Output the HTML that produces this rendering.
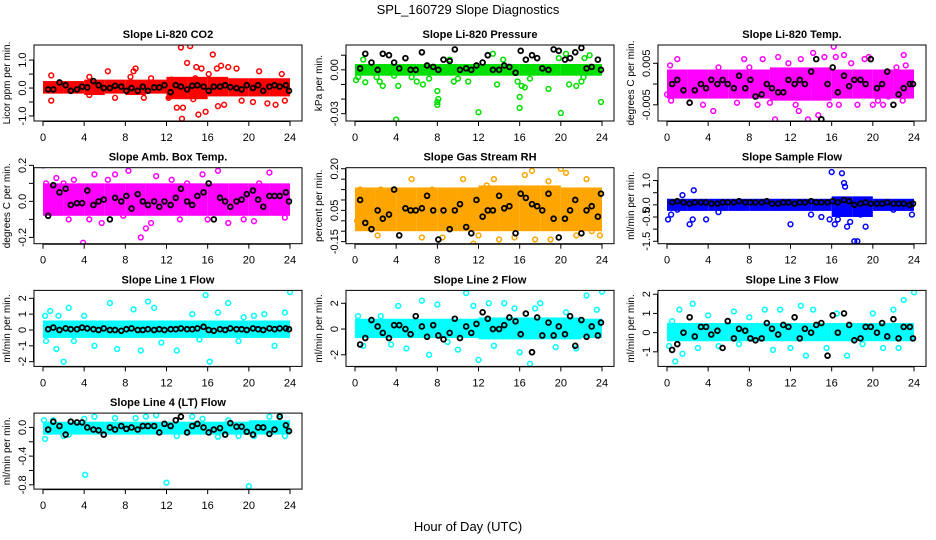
<!DOCTYPE html>
<html><head><meta charset="utf-8"><style>
body{margin:0;background:#fff;}
svg{display:block;font-family:"Liberation Sans",sans-serif;}
</style></head><body>
<svg id="chart" width="936" height="540" xmlns="http://www.w3.org/2000/svg">
<text x="468" y="14" text-anchor="middle" font-size="13">SPL_160729  Slope Diagnostics</text>
<text x="468" y="531" text-anchor="middle" font-size="13">Hour of Day (UTC)</text>
</svg>
<script>
const xTicks=[0,4,8,12,16,20,24];
const blackHours=[0.5,1.0,1.6,2.2,2.7,3.3,3.8,4.3,4.9,5.4,5.9,6.5,7.0,7.6,8.1,8.6,9.2,9.7,10.2,10.8,11.3,11.8,12.4,12.9,13.4,14.0,14.5,15.0,15.6,16.1,16.6,17.2,17.7,18.2,18.8,19.3,19.8,20.4,20.9,21.4,22.0,22.5,23.0,23.6,23.9];
const titles=["Slope Li-820 CO2","Slope Li-820 Pressure","Slope Li-820 Temp.","Slope Amb. Box Temp.","Slope Gas Stream RH","Slope Sample Flow","Slope Line 1 Flow","Slope Line 2 Flow","Slope Line 3 Flow","Slope Line 4 (LT) Flow"];
const yTitles=["Licor ppm per min.","kPa per min.","degrees C per min.","degrees C per min.","percent per min.","ml/min per min.","ml/min per min.","ml/min per min.","ml/min per min.","ml/min per min."];
const yRanges=[[-1.18,1.54],[-0.035,0.017],[-0.0089,0.0094],[-0.235,0.187],[-0.16,0.205],[-1.6,1.53],[-2.3,2.5],[-2.9,3.0],[-1.76,2.2],[-0.86,0.2]];
const yTickVals=[[-1,-0.5,0,0.5,1],[-0.03,-0.02,-0.01,0,0.01],[-0.005,0,0.005],[-0.2,-0.1,0,0.1,0.2],[-0.15,-0.1,-0.05,0,0.05,0.1,0.15,0.2],[-1.5,-1,-0.5,0,0.5,1],[-2,-1,0,1,2],[-2,0,2],[-1,0,1,2],[-0.8,-0.6,-0.4,-0.2,0]];
const yTickLabels=[["-1.0","","0.0","","1.0"],["-0.03","","","0.00",""],["-0.005","","0.005"],["-0.2","","0.0","","0.2"],["-0.15","","","0.05","","","","0.20"],["-1.5","","-0.5","0.0","","1.0"],["-2","-1","0","1","2"],["-2","0","2"],["-1","0","1","2"],["-0.8","","-0.4","","0.0"]];
const colors=["#ff0000","#00e000","#ff00ff","#ff00ff","#ffa500","#0000ff","#00ffff","#00ffff","#00ffff","#00ffff"];
const bandLo=[
[-0.2,-0.2,-0.25,-0.2,-0.25,-0.2,-0.4,-0.4,-0.3,-0.3,-0.3,-0.3],
[-0.004,-0.004,-0.004,-0.004,-0.004,-0.004,-0.004,-0.004,-0.004,-0.004,-0.004,-0.004],
[-0.0035,-0.0035,-0.0035,-0.0035,-0.0035,-0.004,-0.004,-0.004,-0.0035,-0.0035,-0.0035,-0.0035],
[-0.08,-0.08,-0.08,-0.08,-0.08,-0.08,-0.08,-0.08,-0.08,-0.08,-0.08,-0.08],
[-0.1,-0.1,-0.1,-0.1,-0.1,-0.1,-0.1,-0.1,-0.1,-0.1,-0.1,-0.1],
[-0.25,-0.25,-0.25,-0.25,-0.25,-0.25,-0.25,-0.25,-0.5,-0.5,-0.25,-0.25],
[-0.5,-0.5,-0.5,-0.5,-0.5,-0.5,-0.5,-0.5,-0.5,-0.5,-0.5,-0.5],
[-0.7,-0.7,-0.7,-0.7,-0.7,-0.7,-0.8,-0.8,-0.8,-0.8,-0.8,-0.7],
[-0.45,-0.45,-0.45,-0.45,-0.45,-0.45,-0.45,-0.45,-0.45,-0.45,-0.45,-0.45],
[-0.1,-0.1,-0.1,-0.1,-0.1,-0.1,-0.1,-0.1,-0.1,-0.1,-0.1,-0.1]];
const bandHi=[
[0.25,0.25,0.3,0.3,0.3,0.3,0.4,0.4,0.4,0.35,0.35,0.35],
[0.004,0.004,0.004,0.004,0.004,0.004,0.004,0.004,0.004,0.004,0.004,0.004],
[0.0035,0.0035,0.0035,0.0035,0.0035,0.004,0.004,0.004,0.0035,0.0035,0.0035,0.0035],
[0.1,0.1,0.1,0.1,0.1,0.1,0.1,0.1,0.1,0.1,0.1,0.1],
[0.11,0.11,0.11,0.11,0.11,0.11,0.12,0.12,0.12,0.12,0.11,0.11],
[0.25,0.25,0.25,0.25,0.25,0.25,0.25,0.25,0.35,0.35,0.25,0.25],
[0.6,0.6,0.6,0.6,0.6,0.6,0.6,0.6,0.6,0.6,0.6,0.6],
[0.8,0.8,0.8,0.8,0.8,0.8,0.9,0.9,0.9,0.9,0.9,0.8],
[0.5,0.5,0.5,0.5,0.5,0.5,0.5,0.5,0.5,0.5,0.5,0.5],
[0.08,0.08,0.08,0.08,0.08,0.08,0.08,0.08,0.08,0.08,0.1,0.1]];
const outliers=[
[[0.8,0.45],[0.8,-0.45],[4.5,0.4],[4.5,-0.25],[6.3,0.6],[7.0,-0.35],[8.5,0.4],[8.8,0.6],[9.0,0.7],[9.8,-0.35],[10.5,0.35],[12.2,-0.35],[13.0,-0.7],[13.4,1.45],[13.5,-1.1],[13.6,-0.7],[14.0,0.9],[14.3,1.5],[14.6,-0.4],[14.9,0.75],[15.1,-0.95],[15.4,0.7],[15.8,-0.85],[16.1,0.5],[16.5,1.2],[16.9,0.7],[17.0,-0.65],[17.3,0.8],[17.6,-0.6],[18.0,0.75],[18.8,0.7],[19.3,-0.45],[20.4,-0.5],[21.0,0.6],[21.8,-0.55],[22.6,-0.6],[23.2,0.5],[23.5,-0.45],[14.8,0.35],[12.5,0.3]],
[[0.1,-0.007],[0.3,-0.005],[0.8,0.007],[1.0,-0.0085],[2.1,-0.005],[2.4,-0.008],[2.7,-0.011],[3.8,-0.004],[4.0,-0.034],[4.2,-0.011],[5.5,-0.005],[6.0,-0.008],[6.6,-0.01],[7.2,-0.006],[8.0,-0.0145],[8.0,-0.022],[8.0,-0.024],[8.1,-0.02],[9.2,0.007],[9.6,-0.008],[10.0,-0.006],[11.0,-0.008],[12.0,-0.029],[13.4,0.011],[13.8,-0.01],[14.4,0.007],[15.8,-0.008],[16.0,-0.026],[16.0,-0.0185],[16.2,-0.011],[16.5,-0.012],[17.0,-0.006],[18.8,-0.013],[19.8,0.008],[20.0,-0.0295],[20.5,0.011],[20.8,-0.01],[21.5,-0.011],[22.3,0.008],[22.8,0.01],[22.2,-0.005],[23.9,-0.022],[22.0,-0.008]],
[[0.0,-0.0025],[0.3,0.0045],[0.4,-0.004],[1.0,0.006],[3.5,-0.005],[4.5,-0.0065],[5.0,0.004],[6.8,-0.0045],[7.5,0.006],[8.0,0.004],[8.8,-0.005],[9.3,0.006],[10.0,-0.0045],[10.5,-0.0085],[10.8,0.0065],[11.8,0.005],[12.5,-0.005],[12.8,-0.0065],[13.0,0.006],[13.7,-0.0085],[14.2,0.0075],[14.7,-0.0075],[15.3,0.0065],[15.8,-0.005],[16.2,0.009],[16.4,0.0065],[16.7,-0.005],[17.2,0.007],[17.9,0.005],[18.5,-0.005],[19.2,0.006],[19.6,0.0065],[20.0,-0.005],[20.5,-0.004],[21.5,-0.003],[22.3,0.004],[23.0,0.007],[23.2,0.0045],[22.9,-0.004],[21.0,-0.005]],
[[0.0,0.2],[0.3,0.1],[1.3,0.13],[2.5,-0.1],[3.0,0.12],[3.9,-0.23],[4.5,-0.1],[5.0,0.15],[5.7,-0.12],[6.3,0.12],[7.0,0.15],[7.8,-0.08],[8.3,0.17],[9.5,-0.2],[10.0,-0.15],[10.5,-0.12],[11.0,0.14],[12.5,0.12],[13.3,-0.1],[14.0,0.1],[15.5,0.15],[16.0,-0.1],[17.0,0.17],[18.0,-0.12],[19.5,-0.1],[20.5,-0.11],[22.0,0.16],[23.5,-0.09],[21.0,0.1],[2.0,0.1]],
[[0.2,-0.05],[0.5,0.1],[1.5,-0.05],[2.2,-0.12],[2.5,0.1],[3.0,-0.08],[5.5,0.15],[6.5,-0.13],[7.5,0.1],[8.5,-0.13],[9.5,-0.08],[10.5,0.15],[11.5,-0.16],[12.0,-0.12],[12.8,0.12],[13.5,0.15],[14.0,-0.14],[15.5,-0.13],[16.5,0.17],[17.2,0.19],[17.5,-0.14],[18.8,0.14],[20.0,0.2],[20.5,0.18],[21.5,-0.12],[22.5,0.15],[23.0,-0.1],[23.8,-0.12],[19.0,-0.14]],
[[0.1,-0.6],[0.4,-0.4],[1.0,-0.2],[1.5,0.4],[2.2,-0.8],[2.5,-0.6],[2.6,0.6],[3.8,-0.6],[5.0,-0.3],[12.0,-0.8],[14.0,-0.4],[15.0,-0.5],[15.8,-0.6],[16.0,1.35],[16.3,-0.8],[16.6,-0.6],[17.0,1.3],[17.2,0.9],[17.3,0.75],[17.5,-0.9],[17.8,-0.7],[18.2,-1.5],[18.5,-1.5],[18.8,-0.4],[19.3,-0.9],[19.6,-0.3],[23.8,-0.4],[22.0,-0.2]],
[[0.2,0.9],[0.3,-0.7],[0.7,1.2],[1.3,-1.2],[1.5,0.9],[2.0,-2.0],[2.5,1.4],[3.0,-0.7],[4.0,0.9],[5.0,-1.0],[6.5,1.7],[7.2,-1.2],[8.8,1.3],[9.5,-1.3],[10.2,1.8],[10.8,1.4],[11.5,-0.8],[13.0,-1.3],[14.5,1.0],[15.2,-0.6],[15.8,2.2],[16.2,-2.0],[17.0,1.1],[18.0,1.7],[19.0,-0.7],[20.5,0.9],[21.5,1.0],[22.5,-1.0],[23.5,1.1],[24.0,2.4],[19.5,0.8]],
[[0.3,1.0],[0.8,-1.3],[2.5,1.0],[3.5,-1.2],[4.2,1.8],[5.0,-1.5],[6.5,2.2],[7.2,-2.0],[8.0,1.9],[9.0,-1.0],[10.8,2.8],[11.5,1.8],[12.0,-2.4],[13.0,2.0],[13.5,-1.3],[14.5,2.0],[15.5,1.6],[16.0,-1.8],[17.0,-2.7],[17.5,1.6],[18.0,2.0],[19.5,-1.4],[20.5,1.3],[21.5,-1.5],[22.5,2.6],[23.5,1.5],[24.0,2.9],[10.0,-1.6]],
[[0.2,-0.7],[0.5,0.6],[0.8,-1.5],[1.2,1.2],[1.5,-1.1],[2.5,1.5],[3.0,-0.8],[4.0,0.9],[5.0,-0.7],[6.5,1.1],[7.0,-0.6],[8.0,0.8],[9.5,1.2],[10.3,-0.9],[11.0,1.2],[12.0,-0.8],[13.0,1.4],[13.5,-1.2],[14.2,1.2],[15.5,-0.8],[16.5,1.0],[17.5,-1.2],[19.0,-0.6],[20.0,1.0],[21.0,-0.8],[22.0,1.2],[22.5,-0.8],[23.0,1.7],[24.0,2.1]],
[[0.1,0.1],[0.2,-0.16],[1.0,0.1],[2.0,-0.12],[4.0,0.12],[4.1,-0.66],[5.0,0.15],[7.0,0.13],[9.0,0.13],[10.0,0.15],[11.0,0.17],[12.0,-0.77],[13.0,-0.12],[14.5,0.15],[15.5,0.12],[17.0,-0.13],[18.0,0.1],[19.0,-0.12],[20.0,-0.82],[20.5,-0.12],[22.0,0.15],[23.0,0.18],[23.5,-0.12],[2.5,-0.1]]];
const blackVals=[
[-0.05,-0.05,0.2,0.1,-0.1,-0.05,0.05,0.02,0.25,0.1,0,0,0.08,0.05,-0.1,0,-0.1,0.05,-0.1,0.02,0.02,0.1,-0.15,0.1,0.05,-0.05,0.08,0.1,0.05,-0.1,0.05,0.05,0.1,0.03,0,-0.05,0.1,0,0.1,-0.1,0.05,0.1,0.05,0.1,-0.1],
[0.001,0.011,0.005,0.0,0.011,0.01,0.005,0.001,0.008,0.0,0.0,0.012,0.003,0.002,0.0,0.007,0.006,0.014,0.0,0.001,0.0,0.003,0.005,0.01,0.0,0.0,0.003,0.002,-0.002,0.013,0.007,0.01,0.008,0.001,0.0,0.014,0.013,0.007,0.008,0.012,0.015,0.001,0.002,0.007,0.0],
[0.0,0.001,-0.0015,-0.0045,-0.0015,0.0,-0.001,0.001,0.0,0.001,0.0,-0.001,0.002,-0.001,0.001,-0.003,-0.0025,0.0,-0.001,-0.002,-0.002,0.001,0.0,0.001,0.0,0.003,0.006,-0.0085,0.0,0.004,-0.002,0.002,-0.0005,0.001,0.001,0.0,0.006,-0.001,0.0,0.003,-0.005,-0.0025,-0.001,0.0,0.0],
[-0.08,0.09,0.05,0.07,-0.02,-0.01,-0.01,0.06,-0.02,0.0,0.01,-0.1,0.02,0.0,0.03,-0.04,0.04,0.0,-0.02,0.0,-0.03,0.0,-0.02,0.02,0.07,0.0,-0.02,0.03,0.05,0.1,-0.1,0.02,0.0,-0.03,0.0,0.01,0.04,0.06,0.01,-0.03,0.03,0.03,0.03,0.05,0.0],
[0.05,-0.06,-0.09,0.0,-0.04,-0.02,0.1,-0.12,0.01,0.0,0.0,0.01,0.07,0.0,-0.14,0.0,-0.09,0.0,0.03,-0.08,-0.11,0.05,-0.03,0.0,0.0,0.07,0.01,0.02,-0.11,0.08,0.06,0.03,0.02,0.0,0.08,-0.04,-0.13,-0.04,0.0,0.05,-0.11,0.0,0.02,-0.03,0.08],
[0.1,0.15,0.1,0.05,0.1,0.1,0.1,0.05,0.05,0.1,0.1,0.1,0.15,0.1,0.1,0.1,0.1,0.15,0.05,0.05,0.1,0.1,0.05,0.1,0.1,0.15,0.1,0.1,0.1,0.15,0.1,0.2,0.15,0.0,0.05,0.1,0.05,0.05,0.05,0.1,0.05,0.05,0.05,0.0,0.05],
[0.05,0.15,0.0,0.1,0.05,0.05,0.15,0.1,0.05,0.0,0.1,0.0,0.0,-0.05,0.05,0.1,0.0,0.0,0.05,0.0,0.05,0.0,0.05,0.05,0.1,0.05,0.05,0.1,0.2,0.0,-0.05,0.05,0.0,0.1,0.05,0.05,0.0,0.1,0.05,0.0,0.1,0.05,0.1,0.1,0.05],
[-1.2,-0.7,0.7,0.2,-0.3,-0.7,0.3,0.3,0.0,-0.4,1.0,0.2,-0.6,0.3,-0.5,-0.8,-0.3,0.8,-0.7,0.2,-0.3,0.4,1.3,0.8,0.0,0.0,0.3,0.9,0.6,-0.4,1.2,-1.8,0.9,-0.5,0.5,-0.5,0.2,-0.4,1.0,-1.3,0.7,-0.6,0.2,-0.5,0.5],
[-0.9,-0.6,0.0,0.8,-0.2,0.3,0.3,-0.1,0.1,-0.8,0.6,-0.3,0.2,0.1,-0.3,-0.4,-0.3,0.5,0.2,-0.1,0.4,0.3,0.8,-0.3,0.2,0.0,0.4,0.5,-1.2,0.9,0.0,1.0,0.4,-0.4,-0.3,0.3,0.3,0.0,0.5,-0.2,0.7,-0.3,0.3,0.3,-0.3],
[-0.03,0.08,0.02,-0.1,0.08,0.07,0.07,0.0,-0.03,-0.04,-0.1,0.0,-0.03,0.02,-0.02,0.0,-0.03,0.02,0.02,0.02,-0.07,0.05,0.02,0.1,0.15,-0.07,0.02,0.05,0.0,-0.07,-0.03,-0.01,-0.1,0.06,0.01,0.01,-0.06,-0.1,0.0,0.0,-0.09,-0.03,0.15,0.03,-0.05]];

const NS="http://www.w3.org/2000/svg";
const svg=document.getElementById('chart');
function mk(tag,attrs,parent){const e=document.createElementNS(NS,tag);for(const k in attrs)e.setAttribute(k,attrs[k]);(parent||svg).appendChild(e);return e;}
const lefts=[34,346,658], tops=[45,167.7,290.4,413.1], W=268, H=76;
titles.forEach((t,i)=>{
  const L=lefts[i%3], T=tops[Math.floor(i/3)], B=T+H;
  const g=mk('g',{});
  
  
  const xs=h=>L+9+h*(247/24);
  const [y0,y1]=yRanges[i];
  const ys=v=>B-(v-y0)/(y1-y0)*H;
  const clipId='clip'+i;
  const cp=mk('clipPath',{id:clipId},g);mk('rect',{x:L,y:T,width:W,height:H},cp);
  const plot=mk('g',{'clip-path':'url(#'+clipId+')'},g);
  const col=colors[i];
  bandLo[i].forEach((lo,k)=>{
    const r=mk('rect',{x:xs(k*2),y:ys(bandHi[i][k]),width:xs(2)-xs(0),height:ys(lo)-ys(bandHi[i][k]),fill:col},plot);
    
    
  });
  outliers[i].forEach(p=>{
    const c=mk('circle',{cx:xs(p[0]),cy:ys(p[1]),r:2.4,fill:'none',stroke:col,'stroke-width':1.5},plot);
    
    
  });
  blackVals[i].forEach((v,k)=>{
    const c=mk('circle',{cx:xs(blackHours[k]),cy:ys(v),r:2.4,fill:'none',stroke:'#000','stroke-width':1.8},plot);
    
    
  });
  mk('rect',{x:L,y:T,width:W,height:H,fill:'none',stroke:'#000','stroke-width':1},g);
  mk('line',{x1:xs(0),x2:xs(24),y1:B+0.5,y2:B+0.5,stroke:'#000'},g);
  xTicks.forEach(h=>{
    mk('line',{x1:xs(h),x2:xs(h),y1:B,y2:B+5,stroke:'#000'},g);
    const tx=mk('text',{x:xs(h),y:B+20,'text-anchor':'middle','font-size':11},g);tx.textContent=h;
    
    
  });
  const yv=yTickVals[i];
  mk('line',{x1:L-0.5,x2:L-0.5,y1:ys(yv[0]),y2:ys(yv[yv.length-1]),stroke:'#000'},g);
  yv.forEach((v,k)=>{
    mk('line',{x1:L-5,x2:L,y1:ys(v),y2:ys(v),stroke:'#000'},g);
    const lab=yTickLabels[i][k];
    if(lab){const tx=mk('text',{x:L-8,y:ys(v),'text-anchor':'middle','font-size':11,transform:'rotate(-90 '+(L-8)+' '+ys(v)+')'},g);tx.textContent=lab;
      
      }
  });
  const yt=mk('text',{x:L-24,y:T+H/2,'text-anchor':'middle','font-size':10,transform:'rotate(-90 '+(L-24)+' '+(T+H/2)+')'},g);yt.textContent=yTitles[i];
  
  
  const tt=mk('text',{x:L+W/2,y:T-7,'text-anchor':'middle','font-size':11,'font-weight':'bold'},g);tt.textContent=t;
  
  
});
</script>
</body></html>
